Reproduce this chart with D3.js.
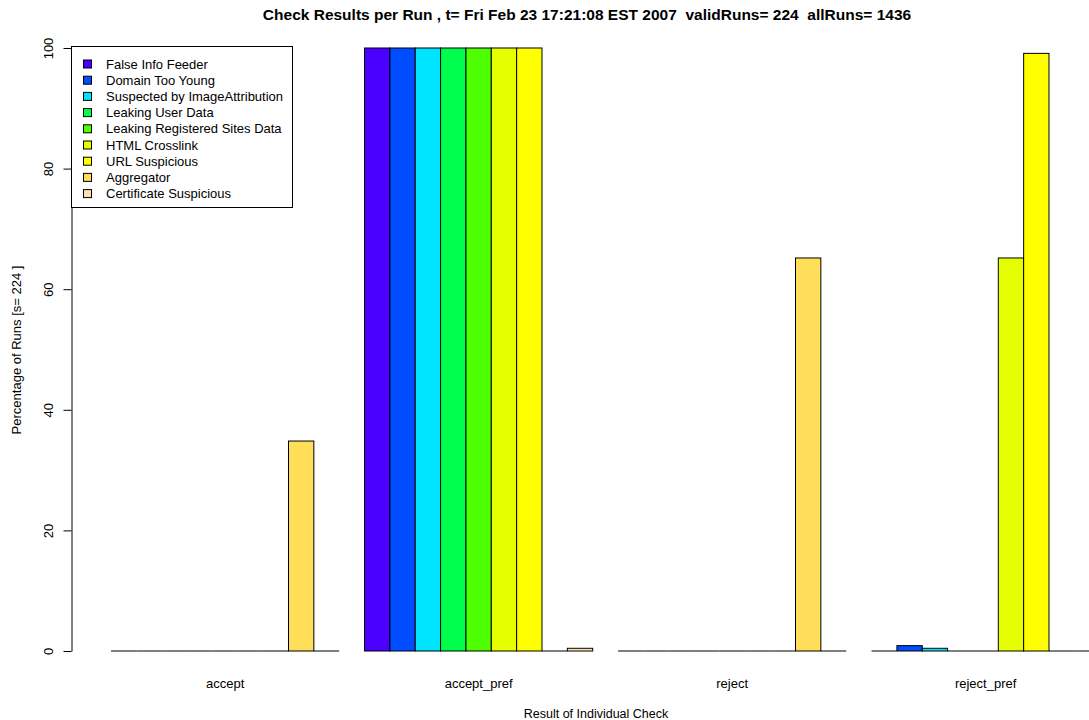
<!DOCTYPE html>
<html>
<head>
<meta charset="utf-8">
<script src="https://cdn.jsdelivr.net/npm/d3@7"></script>
<style>
  html, body { margin: 0; padding: 0; background: #fff; }
  svg { display: block; font-family: "Liberation Sans", Arial, Helvetica, sans-serif; }
  text { white-space: pre; }
</style>
</head>
<body>
<svg id="chart" width="1089" height="720"></svg>
<script>
// ---- data ----
const categories = ["accept", "accept_pref", "reject", "reject_pref"];
const seriesNames = [
  "False Info Feeder",
  "Domain Too Young",
  "Suspected by ImageAttribution",
  "Leaking User Data",
  "Leaking Registered Sites Data",
  "HTML Crosslink",
  "URL Suspicious",
  "Aggregator",
  "Certificate Suspicious"
];
const seriesColors = ["#4C00FF", "#004CFF", "#00E5FF", "#00FF4D", "#4DFF00", "#E6FF00", "#FFFF00", "#FFDE59", "#FFE0B3"];
// values per series, in category order (accept, accept_pref, reject, reject_pref)
const falseInfoFeeder   = [0, 100, 0, 0];
const domainTooYoung    = [0, 100, 0, 0.89];
const suspectedImage    = [0, 100, 0, 0.45];
const leakingUserData   = [0, 100, 0, 0];
const leakingRegSites   = [0, 100, 0, 0];
const htmlCrosslink     = [0, 100, 0, 65.18];
const urlSuspicious     = [0, 100, 0, 99.11];
const aggregator        = [34.82, 0, 65.18, 0];
const certSuspicious    = [0, 0.45, 0, 0];
const yTicks = [0, 20, 40, 60, 80, 100];

const titleText = "Check Results per Run , t= Fri Feb 23 17:21:08 EST 2007  validRuns= 224  allRuns= 1436";
const xLabel = "Result of Individual Check";
const yLabel = "Percentage of Runs [s= 224 ]";

const seriesValues = [falseInfoFeeder, domainTooYoung, suspectedImage, leakingUserData,
  leakingRegSites, htmlCrosslink, urlSuspicious, aggregator, certSuspicious];

// ---- layout ----
const svg = d3.select("#chart");
const unit = 25.35;
const u0 = 85.7;
const x0 = d3.scaleBand().domain(categories)
  .range([u0 + unit * 1, u0 + unit * 40])
  .paddingInner(0.1).paddingOuter(0);
const x1 = d3.scaleBand().domain(seriesNames).range([0, x0.bandwidth()]).padding(0);
const y = d3.scaleLinear().domain([0, 100]).range([651, 48]);

const data = [];
categories.forEach((c, ci) => {
  seriesNames.forEach((s, si) => {
    data.push({cat: c, series: s, value: seriesValues[si][ci], color: seriesColors[si]});
  });
});

// bars (non-zero)
svg.append("g").selectAll("rect").data(data.filter(d => d.value > 0)).join("rect")
  .attr("x", d => x0(d.cat) + x1(d.series))
  .attr("y", d => y(d.value))
  .attr("width", x1.bandwidth())
  .attr("height", d => y(0) - y(d.value))
  .attr("fill", d => d.color)
  .attr("stroke", "#000")
  .attr("stroke-width", 1);
// zero-height bars collapse to a line
svg.append("g").selectAll("line").data(data.filter(d => d.value === 0)).join("line")
  .attr("x1", d => x0(d.cat) + x1(d.series))
  .attr("x2", d => x0(d.cat) + x1(d.series) + x1.bandwidth())
  .attr("y1", d => y(d.value))
  .attr("y2", d => y(d.value))
  .attr("stroke", "#000")
  .attr("stroke-width", 1);

// y axis
const yAxis = d3.axisLeft(y).tickValues(yTicks).tickSize(8).tickSizeOuter(0).tickFormat(d3.format("d"));
const gy = svg.append("g").attr("transform", "translate(71.5,0)").call(yAxis);
gy.select(".domain").attr("stroke", "#000");
gy.selectAll(".tick line").attr("stroke", "#000");
gy.selectAll(".tick text").remove();
gy.selectAll(".tick").append("text")
  .attr("transform", "translate(-19,0) rotate(-90)")
  .attr("text-anchor", "middle")
  .attr("fill", "#000")
  .style("font-size", "13px")
  .text(d => d);

// category labels
svg.append("g").selectAll("text").data(categories).join("text")
  .attr("x", d => x0(d) + x0.bandwidth() / 2)
  .attr("y", 688)
  .attr("text-anchor", "middle")
  .style("font-size", "13px")
  .text(d => d);

// title
svg.append("text").attr("x", 587).attr("y", 20).attr("text-anchor", "middle")
  .style("font-size", "15.5px").style("font-weight", "bold").text(titleText);
// x label
svg.append("text").attr("x", 596).attr("y", 718).attr("text-anchor", "middle")
  .style("font-size", "12.5px").text(xLabel);
// y label
svg.append("text").attr("transform", "translate(21,350) rotate(-90)").attr("text-anchor", "middle")
  .style("font-size", "13px").text(yLabel);

// legend
const lg = svg.append("g");
lg.append("rect").attr("x", 71.5).attr("y", 46.5).attr("width", 221).attr("height", 161)
  .attr("fill", "#fff").attr("stroke", "#000").attr("stroke-width", 1);
const items = lg.selectAll("g.item").data(seriesNames).join("g").attr("class", "item")
  .attr("transform", (d, i) => `translate(0,${64 + i * 16.2})`);
items.append("rect").attr("x", 83.5).attr("y", -4).attr("width", 8).attr("height", 8)
  .attr("fill", (d, i) => seriesColors[i]).attr("stroke", "#000").attr("stroke-width", 1);
items.append("text").attr("x", 106).attr("y", 0).attr("dy", "0.35em")
  .style("font-size", "13px").text(d => d);
</script>
</body>
</html>
